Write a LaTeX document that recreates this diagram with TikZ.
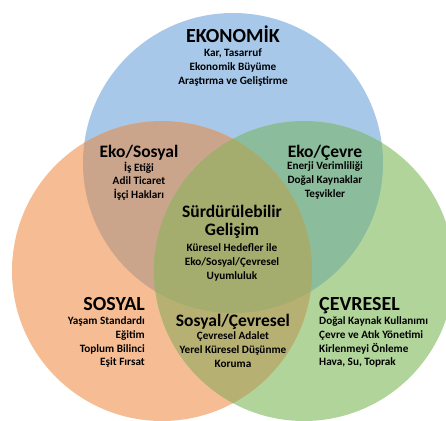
\documentclass[tikz,border=0pt]{standalone}
\usepackage{fontspec}
\setmainfont{Carlito}
\usetikzlibrary{positioning}

\definecolor{ekoc}{RGB}{168,200,234}
\definecolor{sosc}{RGB}{246,189,148}
\definecolor{cevc}{RGB}{177,212,155}
\definecolor{ekosos}{RGB}{203,164,140}
\definecolor{ekocev}{RGB}{139,189,156}
\definecolor{soscev}{RGB}{182,176,115}
\definecolor{ortak}{RGB}{164,172,110}

\begin{document}
\begin{tikzpicture}[x=1pt,y=1pt,
	bigtitle/.style={font=\bfseries\fontsize{20}{24}\selectfont,inner sep=0pt,text depth=4pt},
	midtitle/.style={font=\bfseries\fontsize{17.5}{18}\selectfont,inner sep=0pt,align=center,text depth=4pt},
	body/.style={font=\bfseries\fontsize{11.2}{13.7}\selectfont,inner sep=0pt,align=center}]
	\useasboundingbox (0,0) rectangle (446,-420);

	% daireler
	\coordinate (E) at (233,-163);
	\coordinate (S) at (162,-271);
	\coordinate (C) at (304,-271);
	\fill[ekoc] (E) circle[radius=150pt];
	\fill[sosc] (S) circle[radius=150pt];
	\fill[cevc] (C) circle[radius=150pt];
	\begin{scope}
		\clip (E) circle[radius=150pt];
		\fill[ekosos] (S) circle[radius=150pt];
		\fill[ekocev] (C) circle[radius=150pt];
	\end{scope}
	\begin{scope}
		\clip (S) circle[radius=150pt];
		\fill[soscev] (C) circle[radius=150pt];
		\clip (C) circle[radius=150pt];
		\fill[ortak] (E) circle[radius=150pt];
	\end{scope}

	% basliklar
	\node[bigtitle,anchor=base] (eko) at (233,-42) {EKONOMİK};
	\node[bigtitle,anchor=base east] (sos) at (145,-310) {SOSYAL};
	\node[bigtitle,anchor=base west] (cev) at (319,-310) {ÇEVRESEL};
	\node[midtitle,anchor=base] (ekosos) at (139,-157) {Eko/Sosyal};
	\node[midtitle,anchor=base] (ekocev) at (325,-157) {Eko/Çevre};
	\node[midtitle,anchor=base] (soscev) at (233,-326) {Sosyal/Çevresel};
	\node[midtitle,anchor=base] (surd) at (232,-235) {Sürdürülebilir\\Gelişim};

	% maddeler
	\node[body,below=2.5pt of eko] (ekoTxt) {Kar, Tasarruf\\Ekonomik Büyüme\\Araştırma ve Geliştirme};
	\node[body,below=2.5pt of sos.south east,anchor=north east,align=right] (sosTxt) {Yaşam Standardı\\Eğitim\\Toplum Bilinci\\Eşit Fırsat};
	\node[body,below=2.5pt of cev.south west,anchor=north west,align=left] (cevTxt) {Doğal Kaynak Kullanımı\\Çevre ve Atık Yönetimi\\Kirlenmeyi Önleme\\Hava, Su, Toprak};
	\node[body,below=0.5pt of ekosos] (ekososTxt) {İş Etiği\\Adil Ticaret\\İşçi Hakları};
	\node[body,below=0.5pt of ekocev] (ekocevTxt) {Enerji Verimliliği\\Doğal Kaynaklar\\Teşvikler};
	\node[body,below=1.5pt of soscev] (soscevTxt) {Çevresel Adalet\\Yerel Küresel Düşünme\\Koruma};
	\node[body,below=4.5pt of surd] (surdTxt) {Küresel Hedefler ile\\Eko/Sosyal/Çevresel\\Uyumluluk};
\end{tikzpicture}
\end{document}
